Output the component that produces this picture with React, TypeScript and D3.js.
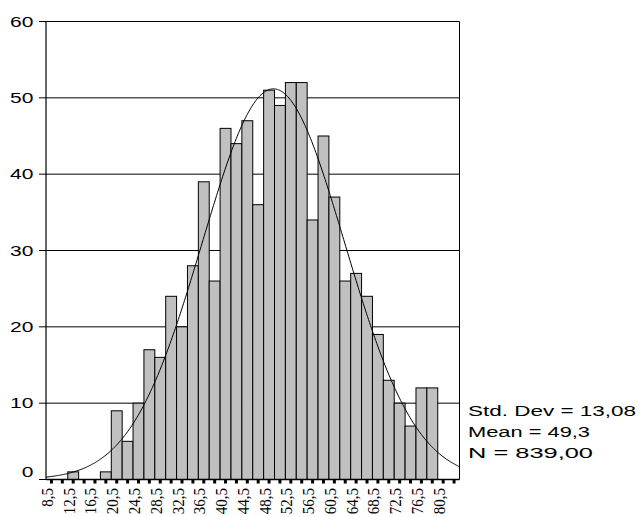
import React from "react";
import * as d3 from "d3";

const BIN_CENTERS = [
  8.5, 10.5, 12.5, 14.5, 16.5, 18.5, 20.5, 22.5, 24.5, 26.5, 28.5, 30.5, 32.5,
  34.5, 36.5, 38.5, 40.5, 42.5, 44.5, 46.5, 48.5, 50.5, 52.5, 54.5, 56.5, 58.5,
  60.5, 62.5, 64.5, 66.5, 68.5, 70.5, 72.5, 74.5, 76.5, 78.5, 80.5, 82.5,
];
const COUNTS = [
  0, 0, 1, 0, 0, 1, 9, 5, 10, 17, 16, 24, 20, 28, 39, 26, 46, 44, 47, 36, 51,
  49, 52, 52, 34, 45, 37, 26, 27, 24, 19, 13, 10, 7, 12, 12, 0, 0,
];
const X_TICK_VALUES = [
  8.5, 12.5, 16.5, 20.5, 24.5, 28.5, 32.5, 36.5, 40.5, 44.5, 48.5, 52.5, 56.5,
  60.5, 64.5, 68.5, 72.5, 76.5, 80.5,
];
const X_TICK_LABELS = [
  "8,5", "12,5", "16,5", "20,5", "24,5", "28,5", "32,5", "36,5", "40,5", "44,5",
  "48,5", "52,5", "56,5", "60,5", "64,5", "68,5", "72,5", "76,5", "80,5",
];
const Y_TICKS = [0, 10, 20, 30, 40, 50, 60];
const STATS = ["Std. Dev = 13,08", "Mean = 49,3", "N = 839,00"];
const STATS_WIDTHS = [168, 122, 125];
const MEAN = 49.3;
const SD = 13.08;
const N = 839;
const BIN_WIDTH = 2;

export default function App() {
  const W = 641;
  const H = 517;
  const left = 46;
  const right = 459.5;
  const top = 21.5;
  const bottom = 479.5;
  const x = d3.scaleLinear().domain([7.5, 83.5]).range([left, right]);
  const y = d3.scaleLinear().domain([0, 60]).range([bottom, top]);

  const pdf = (v: number) =>
    ((N * BIN_WIDTH) / (SD * Math.sqrt(2 * Math.PI))) *
    Math.exp(-0.5 * ((v - MEAN) / SD) ** 2);
  const curveXs = d3.range(0, 401).map((i) => 7.5 + (i * (83.5 - 7.5)) / 400);
  const line = d3
    .line<number>()
    .x((v) => x(v))
    .y((v) => y(pdf(v)))
    .curve(d3.curveLinear);

  const sans = "'Liberation Sans', Arial, sans-serif";
  const serif = "'Liberation Serif', 'Times New Roman', serif";

  return (
    <svg
      width={W}
      height={H}
      style={{ position: "absolute", left: 0, top: 0, background: "#fff" }}
    >
      <rect x={0} y={0} width={W} height={H} fill="#fff" />
      {Y_TICKS.filter((t) => t > 0 && t < 60).map((t) => (
        <line
          key={"g" + t}
          x1={left}
          x2={right}
          y1={y(t)}
          y2={y(t)}
          stroke="#000"
          strokeWidth={1}
        />
      ))}
      {BIN_CENTERS.map((c, i) =>
        COUNTS[i] > 0 ? (
          <rect
            key={"b" + i}
            x={x(c - BIN_WIDTH / 2)}
            y={y(COUNTS[i])}
            width={x(c + BIN_WIDTH / 2) - x(c - BIN_WIDTH / 2)}
            height={y(0) - y(COUNTS[i])}
            fill="#c0c0c0"
            stroke="#000"
            strokeWidth={1}
          />
        ) : null
      )}
      <path d={line(curveXs) || ""} fill="none" stroke="#000" strokeWidth={1} />
      <line x1={left} x2={right} y1={top} y2={top} stroke="#000" strokeWidth={1} />
      <line x1={right} x2={right} y1={top} y2={bottom} stroke="#000" strokeWidth={1} />
      <line x1={left} x2={left} y1={top} y2={bottom} stroke="#000" strokeWidth={1.2} />
      <line x1={left} x2={right} y1={bottom} y2={bottom} stroke="#000" strokeWidth={1.6} />
      {Y_TICKS.map((t) => (
        <g key={"y" + t}>
          <line x1={left - 7} x2={left} y1={y(t)} y2={y(t)} stroke="#000" strokeWidth={1} />
          <text
            x={33.5}
            y={y(t) + 5 - (t === 0 ? 8 : 0)}
            textAnchor="end"
            fontFamily={sans}
            fontSize={14}
            textLength={String(t).length * 11.7}
            lengthAdjust="spacingAndGlyphs"
            fill="#000"
          >
            {t}
          </text>
        </g>
      ))}
      {BIN_CENTERS.map((c, i) => (
        <rect
          key={"xt" + i}
          x={x(c) - 1.5}
          y={bottom + 0.5}
          width={3}
          height={3.5}
          fill="#000"
        />
      ))}
      {X_TICK_VALUES.map((v, i) => (
        <text
          key={"xl" + i}
          transform={`translate(${x(v) + 1.5},488) scale(1.12,1) rotate(-90)`}
          textAnchor="end"
          fontFamily={serif}
          fontSize={15}
          fill="#000"
        >
          {X_TICK_LABELS[i]}
        </text>
      ))}
      {STATS.map((s, i) => (
        <text
          key={"s" + i}
          x={468}
          y={[415.7, 436.7, 458.3][i]}
          fontFamily={sans}
          fontSize={14}
          textLength={STATS_WIDTHS[i]}
          lengthAdjust="spacingAndGlyphs"
          fill="#000"
        >
          {s}
        </text>
      ))}
    </svg>
  );
}
